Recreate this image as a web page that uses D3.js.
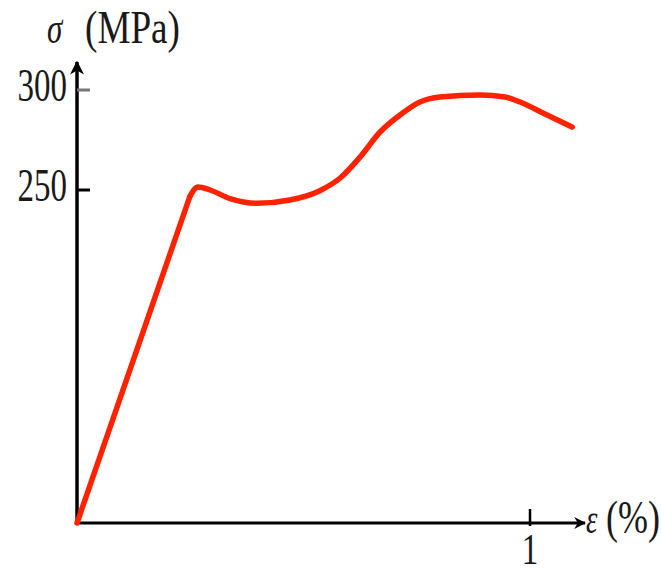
<!DOCTYPE html>
<html>
<head>
<meta charset="utf-8">
<script src="https://cdn.jsdelivr.net/npm/d3@7/dist/d3.min.js"></script>
<style>
  html, body { margin: 0; padding: 0; background: #fff; }
  svg { display: block; }
  text { font-family: "Liberation Serif", "DejaVu Serif", serif; fill: #1a1a1a; }
</style>
</head>
<body>
<svg id="chart" width="661" height="573"></svg>
<script>
// ---- data ----
const strain = [0, 0.249, 0.267, 0.294, 0.338, 0.397, 0.470, 0.536, 0.581, 0.625, 0.669, 0.713, 0.757, 0.801, 0.890, 0.945, 0.978, 1.033, 1.093];
const stress = [0, 245, 251.5, 250, 243.5, 240, 242.5, 249.5, 256, 266.5, 279, 287.5, 294, 296.5, 297.5, 296.5, 294, 288, 281.5];
const yTicks = [250, 300];
const yTickLabels = ["250", "300"];
const xTicks = [1];
const xTickLabels = ["1"];
const yTitle = ["σ", "(MPa)"];
const xTitle = ["ε", "(%)"];

// ---- scales ----
const x = d3.scaleLinear().domain([0, 1]).range([77, 530]);
const y = d3.scaleLinear().domain([0, 250, 300]).range([523, 190, 90]);

const svg = d3.select("#chart");
const sy = 1.42;

// arrow markers
const defs = svg.append("defs");
defs.append("marker").attr("id", "arr").attr("viewBox", "0 0 10 10")
  .attr("refX", 9).attr("refY", 5).attr("markerWidth", 4).attr("markerHeight", 4)
  .attr("markerUnits", "strokeWidth").attr("orient", "auto")
  .append("path").attr("d", "M0,0 L10,5 L0,10 L3,5 Z").attr("fill", "#000");

// axes lines
svg.append("line").attr("x1", x(0)).attr("y1", y(0)).attr("x2", x(0)).attr("y2", 62)
  .attr("stroke", "#000").attr("stroke-width", 3.5).attr("marker-end", "url(#arr)");
svg.append("line").attr("x1", x(0) - 2).attr("y1", y(0)).attr("x2", 585).attr("y2", y(0))
  .attr("stroke", "#000").attr("stroke-width", 3).attr("marker-end", "url(#arr)");

// y ticks
yTicks.forEach((t, i) => {
  svg.append("line").attr("x1", x(0)).attr("x2", x(0) + 13)
    .attr("y1", y(t)).attr("y2", y(t))
    .attr("stroke", i === 1 ? "#777" : "#000").attr("stroke-width", 3);
  svg.append("text")
    .attr("transform", `translate(67,${y(t) + 11}) scale(1,${sy})`)
    .attr("text-anchor", "end").attr("font-size", 33)
    .text(yTickLabels[i]);
});

// x ticks
xTicks.forEach((t, i) => {
  svg.append("line").attr("x1", x(t)).attr("x2", x(t))
    .attr("y1", y(0) - 14).attr("y2", y(0) + 3)
    .attr("stroke", "#000").attr("stroke-width", 2.5);
  svg.append("text")
    .attr("transform", `translate(${x(t)},564) scale(1,1.35)`)
    .attr("text-anchor", "middle").attr("font-size", 33)
    .text(xTickLabels[i]);
});

// axis titles
svg.append("text").attr("transform", `translate(47,43) scale(1,${sy})`)
  .attr("font-size", 31).attr("font-style", "italic").text(yTitle[0]);
svg.append("text").attr("transform", `translate(85,43) scale(1,${sy})`)
  .attr("font-size", 33).attr("textLength", 95).attr("lengthAdjust", "spacingAndGlyphs").text(yTitle[1]);
svg.append("text").attr("transform", `translate(586,533) scale(1,${sy})`)
  .attr("font-size", 29).attr("font-style", "italic").text(xTitle[0]);
svg.append("text").attr("transform", `translate(606,533) scale(1,${sy})`)
  .attr("font-size", 33).attr("textLength", 54).attr("lengthAdjust", "spacingAndGlyphs").text(xTitle[1]);

// curve: straight elastic segment, then smooth plastic part
const pts = strain.map((s, i) => [s, stress[i]]);
const style = p => p.attr("fill", "none").attr("stroke", "#ff2200").attr("stroke-width", 5.5)
  .attr("stroke-linejoin", "round").attr("stroke-linecap", "round");
const lin = d3.line().x(d => x(d[0])).y(d => y(d[1]));
const smooth = d3.line().x(d => x(d[0])).y(d => y(d[1])).curve(d3.curveMonotoneX);
svg.append("path").datum(pts.slice(0, 2)).attr("d", lin).call(style);
svg.append("path").datum(pts.slice(1)).attr("d", smooth).call(style);
</script>
</body>
</html>
